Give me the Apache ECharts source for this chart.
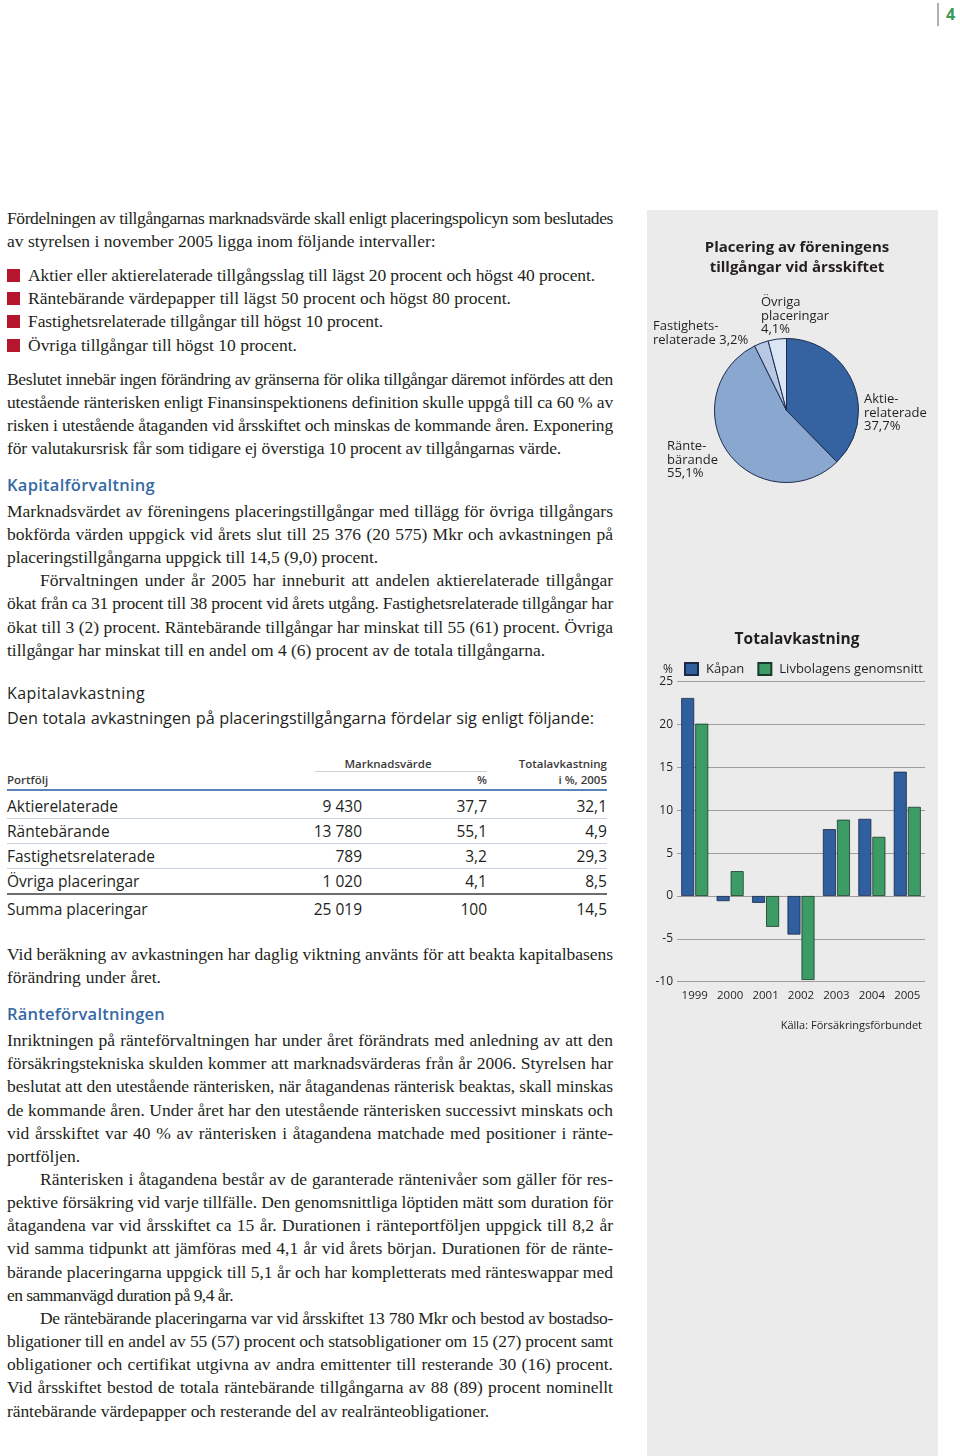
<!DOCTYPE html>
<html><head><meta charset="utf-8">
<script src="https://cdn.jsdelivr.net/npm/echarts@6.0.0/dist/echarts.min.js"></script>
<style>
html,body{margin:0;padding:0;background:#fff;}
#page{position:relative;width:960px;height:1456px;overflow:hidden;background:#fff;}
.ln{position:absolute;white-space:nowrap;font-family:'Liberation Serif','DejaVu Serif',serif;font-size:17.5px;line-height:23px;color:#231f20;}
.sans{position:absolute;white-space:nowrap;font-family:'Open Sans','Noto Sans',sans-serif;color:#231f20;line-height:20px;}
.hd{font-size:16.5px;font-weight:600;color:#3569a4;}
.hdk{font-size:16px;font-weight:500;color:#231f20;}
.sub{font-size:16.3px;}
.th{font-size:11.5px;font-weight:600;color:#3a3a3a;}
.td{font-size:15.5px;}
.bul{position:absolute;width:13px;height:13px;background:#b5162d;}
.rule{position:absolute;}
#panel{position:absolute;left:647px;top:210px;width:291px;height:1246px;}
</style></head>
<body><div id="page"><div id="panel"></div></div>
<script>
// ---- chart data ----
const years = ['1999','2000','2001','2002','2003','2004','2005'];
const kapan = [23.1, -0.6, -0.8, -4.5, 7.8, 9.0, 14.5];
const livbolag = [20.1, 2.9, -3.6, -9.8, 8.9, 6.9, 10.4];
const seriesNames = ['Kåpan', 'Livbolagens genomsnitt'];
const pieNames = ['Aktierelaterade', 'Räntebärande', 'Fastighetsrelaterade', 'Övriga placeringar'];
const pieValues = [37.7, 55.1, 3.2, 4.1];
const pieLabelText = ['Aktie-\nrelaterade', 'Ränte-\nbärande', 'Fastighets-\nrelaterade', 'Övriga\nplaceringar'];
const pieLabelSep = ['\n', '\n', ' ', '\n'];
const yMin = -10, yMax = 25, yStep = 5;

// ---- table data ----
const tableRows = ['Aktierelaterade', 'Räntebärande', 'Fastighetsrelaterade', 'Övriga placeringar', 'Summa placeringar'];
const marketValue = ['9 430', '13 780', '789', '1 020', '25 019'];
const marketPct = ['37,7', '55,1', '3,2', '4,1', '100'];
const totalReturn = ['32,1', '4,9', '29,3', '8,5', '14,5'];

// ---- body text lines: [x, yCenter, endX (null = natural), text] ----
const J = 613;
const bodyLines = [
 [7,218,J,'Fördelningen av tillgångarnas marknadsvärde skall enligt placeringspolicyn som beslutades'],
 [7,241,null,'av styrelsen i november 2005 ligga inom följande intervaller:'],
 [28,275,595,'Aktier eller aktierelaterade tillgångsslag till lägst 20 procent och högst 40 procent.'],
 [28,298,511,'Räntebärande värdepapper till lägst 50 procent och högst 80 procent.'],
 [28,321,383,'Fastighetsrelaterade tillgångar till högst 10 procent.'],
 [28,345,297,'Övriga tillgångar till högst 10 procent.'],
 [7,379,J,'Beslutet innebär ingen förändring av gränserna för olika tillgångar däremot infördes att den'],
 [7,402,J,'utestående ränterisken enligt Finansinspektionens definition skulle uppgå till ca 60 % av'],
 [7,425,J,'risken i utestående åtaganden vid årsskiftet och minskas de kommande åren. Exponering'],
 [7,448,561,'för valutakursrisk får som tidigare ej överstiga 10 procent av tillgångarnas värde.'],
 [7,511,J,'Marknadsvärdet av föreningens placeringstillgångar med tillägg för övriga tillgångars'],
 [7,534,J,'bokförda värden uppgick vid årets slut till 25 376 (20 575) Mkr och avkastningen på'],
 [7,557,378,'placeringstillgångarna uppgick till 14,5 (9,0) procent.'],
 [40,580,J,'Förvaltningen under år 2005 har inneburit att andelen aktierelaterade tillgångar'],
 [7,603,J,'ökat från ca 31 procent till 38 procent vid årets utgång. Fastighetsrelaterade tillgångar har'],
 [7,627,J,'ökat till 3 (2) procent. Räntebärande tillgångar har minskat till 55 (61) procent. Övriga'],
 [7,650,545,'tillgångar har minskat till en andel om 4 (6) procent av de totala tillgångarna.'],
 [7,954,J,'Vid beräkning av avkastningen har daglig viktning använts för att beakta kapitalbasens'],
 [7,977,161,'förändring under året.'],
 [7,1040,J,'Inriktningen på ränteförvaltningen har under året förändrats med anledning av att den'],
 [7,1063,J,'försäkringstekniska skulden kommer att marknadsvärderas från år 2006. Styrelsen har'],
 [7,1086,J,'beslutat att den utestående ränterisken, när åtagandenas ränterisk beaktas, skall minskas'],
 [7,1110,J,'de kommande åren. Under året har den utestående ränterisken successivt minskats och'],
 [7,1133,J,'vid årsskiftet var 40 % av ränterisken i åtagandena matchade med positioner i ränte-'],
 [7,1156,80,'portföljen.'],
 [40,1179,J,'Ränterisken i åtagandena består av de garanterade räntenivåer som gäller för res-'],
 [7,1202,J,'pektive försäkring vid varje tillfälle. Den genomsnittliga löptiden mätt som duration för'],
 [7,1225,J,'åtagandena var vid årsskiftet ca 15 år. Durationen i ränteportföljen uppgick till 8,2 år'],
 [7,1248,J,'vid samma tidpunkt att jämföras med 4,1 år vid årets början. Durationen för de ränte-'],
 [7,1272,J,'bärande placeringarna uppgick till 5,1 år och har kompletterats med ränteswappar med'],
 [7,1295,233,'en sammanvägd duration på 9,4 år.'],
 [40,1318,J,'De räntebärande placeringarna var vid årsskiftet 13 780 Mkr och bestod av bostadso-'],
 [7,1341,J,'bligationer till en andel av 55 (57) procent och statsobligationer om 15 (27) procent samt'],
 [7,1364,J,'obligationer och certifikat utgivna av andra emittenter till resterande 30 (16) procent.'],
 [7,1387,J,'Vid årsskiftet bestod de totala räntebärande tillgångarna av 88 (89) procent nominellt'],
 [7,1411,489,'räntebärande värdepapper och resterande del av realränteobligationer.']
];
const bulletYs = [275, 298, 321, 345];

const page = document.getElementById('page');
function fit(d, x, end, text) {
  const w = d.getBoundingClientRect().width;
  const diff = (end - x) - w;
  const spaces = (text.match(/ /g) || []).length;
  if (diff > 0 && spaces) d.style.wordSpacing = (diff / spaces) + 'px';
  else d.style.letterSpacing = (diff / text.length) + 'px';
}
function put(cls, x, y, text, opts) {
  opts = opts || {};
  const d = document.createElement('div');
  d.className = cls; d.textContent = text;
  page.appendChild(d);
  const h = d.getBoundingClientRect().height;
  d.style.top = (y - h / 2) + 'px';
  if (opts.right != null) {
    const w = d.getBoundingClientRect().width;
    d.style.left = (opts.right - w) + 'px';
  } else if (opts.center != null) {
    const w = d.getBoundingClientRect().width;
    d.style.left = (opts.center - w / 2) + 'px';
  } else {
    d.style.left = x + 'px';
    if (opts.end) fit(d, x, opts.end, text);
  }
  return d;
}
function rule(x, y, w, h, c) {
  const d = document.createElement('div');
  d.className = 'rule';
  d.style.cssText = `left:${x}px;top:${y}px;width:${w}px;height:${h}px;background:${c};`;
  page.appendChild(d);
}
bodyLines.forEach(l => put('ln', l[0], l[1], l[3], {end: l[2]}));
bulletYs.forEach(y => { const b = document.createElement('div'); b.className = 'bul'; b.style.left = '7px'; b.style.top = (y - 6.5) + 'px'; page.appendChild(b); });

put('sans hd', 7, 485, 'Kapitalförvaltning', {end: 155});
put('sans hdk', 7, 693, 'Kapitalavkastning', {end: 145});
put('sans sub', 7, 718, 'Den totala avkastningen på placeringstillgångarna fördelar sig enligt följande:', {end: 594});
put('sans hd', 7, 1014, 'Ränteförvaltningen', {end: 165});

// table
put('sans th', 0, 764, 'Marknadsvärde', {center: 388});
put('sans th', 0, 764, 'Totalavkastning', {right: 607});
put('sans th', 7, 780, 'Portfölj');
put('sans th', 0, 780, '%', {right: 487});
put('sans th', 0, 780, 'i %, 2005', {right: 607});
rule(315, 771, 172, 1, '#cfcfcf');
rule(7, 789, 600, 2, '#5a84b8');
const rowYs = [806, 831, 856, 881, 909];
tableRows.forEach((r, i) => {
  put('sans td', 7, rowYs[i], r);
  put('sans td', 0, rowYs[i], marketValue[i], {right: 362});
  put('sans td', 0, rowYs[i], marketPct[i], {right: 487});
  put('sans td', 0, rowYs[i], totalReturn[i], {right: 607});
});
[818, 843, 868].forEach(y => rule(7, y, 600, 1, '#c9d3e0'));
rule(7, 893, 600, 2, '#6e6e6e');

// page number
rule(937, 3, 2, 23, '#b0b0b0');
const pn = put('sans', 946, 14, '4');
pn.style.fontWeight = '700'; pn.style.fontSize = '16px'; pn.style.color = '#3d9a55';

// ---- chart ----
const F = "'Open Sans','Noto Sans',sans-serif";
const TXT = '#231f20';
const pieColors = ['#3562a0', '#8aa7d0', '#b6c8e4', '#dce5f3'];
const barColors = ['#2f5f9f', '#3d9b66'];
const pieLabelPos = [[217, 183], [20, 230], [6, 110], [114, 86]];
const fmt = v => v.toFixed(1).replace('.', ',');

const chart = echarts.init(document.getElementById('panel'));
chart.setOption({
  animation: false,
  backgroundColor: '#ebebeb',
  textStyle: {fontFamily: F, color: TXT},
  title: [
    {text: 'Placering av föreningens\ntillgångar vid årsskiftet', left: 145, top: 23, textAlign: 'center',
     textStyle: {fontFamily: F, fontSize: 15, fontWeight: 'bold', lineHeight: 20, color: TXT}},
    {text: 'Totalavkastning', left: 145, top: 417, textAlign: 'center',
     textStyle: {fontFamily: F, fontSize: 15.5, fontWeight: 'bold', color: TXT}},
    {text: 'Källa: Försäkringsförbundet', right: 11, top: 805,
     textStyle: {fontFamily: F, fontSize: 11, fontWeight: 'normal', color: TXT}}
  ],
  legend: {
    data: seriesNames, left: 37, top: 452, padding: 0, itemGap: 13, itemWidth: 13, itemHeight: 12,
    icon: 'rect', selectedMode: false,
    textStyle: {fontFamily: F, fontSize: 13, color: TXT, padding: [0, 0, 0, 3]}
  },
  grid: {left: 30, top: 471.7, width: 248, height: 300},
  xAxis: {
    type: 'category', data: years,
    axisLine: {show: false}, axisTick: {show: false},
    axisLabel: {fontFamily: F, fontSize: 11.5, color: TXT, margin: 8, interval: 0}
  },
  yAxis: {
    type: 'value', min: yMin, max: yMax, interval: yStep,
    name: '%', nameLocation: 'end', nameGap: 5,
    nameTextStyle: {fontFamily: F, fontSize: 12, color: TXT, align: 'right', padding: [0, 4, 0, 0]},
    axisLine: {show: false}, axisTick: {show: false},
    axisLabel: {fontFamily: F, fontSize: 12, color: TXT, margin: 4},
    splitLine: {lineStyle: {color: '#9d9d9d', width: 1}}
  },
  series: [
    {type: 'pie', center: [139.5, 200.5], radius: 72, startAngle: 90, clockwise: true,
     avoidLabelOverlap: false, silent: true,
     data: pieNames.map((n, i) => ({name: n, value: pieValues[i], itemStyle: {color: pieColors[i]}})),
     itemStyle: {borderColor: '#1d2c4c', borderWidth: 1},
     label: {show: true, position: 'outside', fontFamily: F, fontSize: 13, lineHeight: 13.5, color: TXT,
       formatter: p => pieLabelText[p.dataIndex] + pieLabelSep[p.dataIndex] + fmt(p.value) + '%'},
     labelLine: {show: false},
     labelLayout: p => ({x: pieLabelPos[p.dataIndex][0], y: pieLabelPos[p.dataIndex][1], align: 'left', verticalAlign: 'top'})
    },
    {type: 'bar', name: seriesNames[0], data: kapan, barWidth: 13, barGap: '8%',
     itemStyle: {color: barColors[0], borderColor: '#1b2845', borderWidth: 0.8}},
    {type: 'bar', name: seriesNames[1], data: livbolag, barWidth: 13, barGap: '8%',
     itemStyle: {color: barColors[1], borderColor: '#1b3a2a', borderWidth: 0.8}}
  ]
});
</script>
</body></html>
